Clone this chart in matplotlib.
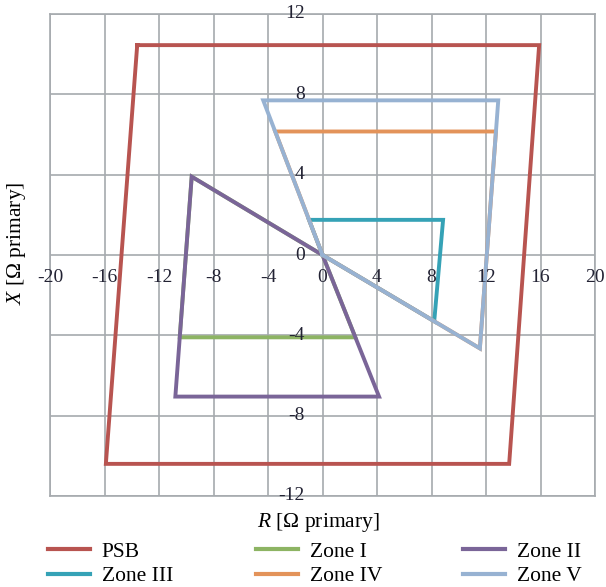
import matplotlib
matplotlib.use("Agg")
import matplotlib.pyplot as plt

plt.rcParams['font.family'] = ['Liberation Serif', 'DejaVu Serif']
plt.rcParams['mathtext.fontset'] = 'custom'
plt.rcParams['mathtext.it'] = 'Liberation Serif:italic'
plt.rcParams['mathtext.rm'] = 'Liberation Serif'

# Characteristic polygons in the R-X plane (Ω primary)
psb_r = [-13.6, 15.9, 13.7, -15.9, -13.6]
psb_x = [10.45, 10.45, -10.4, -10.4, 10.45]

zone1_r = [0.0, -9.6, -10.48, 2.41, 0.0]
zone1_x = [0.0, 3.9, -4.1, -4.1, 0.0]

zone2_r = [0.0, -9.6, -10.8, 4.15, 0.0]
zone2_x = [0.0, 3.9, -7.05, -7.05, 0.0]

zone3_r = [0.0, -0.99, 8.85, 8.2, 0.0]
zone3_x = [0.0, 1.75, 1.75, -3.3, 0.0]

zone4_r = [0.0, -3.47, 12.73, 11.55, 0.0]
zone4_x = [0.0, 6.15, 6.15, -4.65, 0.0]

zone5_r = [0.0, -4.35, 12.9, 11.55, 0.0]
zone5_x = [0.0, 7.7, 7.7, -4.65, 0.0]

r_ticks = [-20, -16, -12, -8, -4, 0, 4, 8, 12, 16, 20]
x_ticks = [-12, -8, -4, 0, 4, 8, 12]

series = [
    ("PSB", psb_r, psb_x, "#b85450"),
    ("Zone I", zone1_r, zone1_x, "#8db463"),
    ("Zone II", zone2_r, zone2_x, "#7a6598"),
    ("Zone III", zone3_r, zone3_x, "#35a2b6"),
    ("Zone IV", zone4_r, zone4_x, "#e3935a"),
    ("Zone V", zone5_r, zone5_x, "#97b2d2"),
]

fig = plt.figure(figsize=(6.06, 5.87), dpi=100)
ax = fig.add_axes([50 / 606, 1 - 496 / 587, 545 / 606, 482 / 587])

handles = {}
for name, r, x, c in series:
    h, = ax.plot(r, x, color=c, lw=2.8, solid_joinstyle='miter', label=name, zorder=3)
    handles[name] = h

ax.set_xlim(-20, 20)
ax.set_ylim(-12, 12)
ax.set_xticks(r_ticks)
ax.set_yticks(x_ticks)
ax.grid(True, color="#a6aaae", lw=1.2, zorder=0)
for s in ax.spines.values():
    s.set_color("#a6aaae")
    s.set_linewidth(1.2)
ax.tick_params(length=0, labelbottom=False, labelleft=False)

# tick labels placed along the axes crossing at the origin
tick_col = "#222233"
for t in r_ticks:
    ax.text(t, -1.1, f"{t}", ha='center', va='center', fontsize=14, color=tick_col, zorder=5)
for t in x_ticks:
    ax.text(-1.3, t, f"{t}", ha='right', va='center', fontsize=14, color=tick_col, zorder=5)

fig.text(318 / 606, 1 - 522 / 587, r"$R$ [Ω primary]", ha='center', va='center', fontsize=15.5)
fig.text(17 / 606, 1 - 243 / 587, r"$X$ [Ω primary]", ha='center', va='center',
         rotation=90, fontsize=15.5)

# legend: three evenly spaced columns of two entries
columns = [["PSB", "Zone III"], ["Zone I", "Zone IV"], ["Zone II", "Zone V"]]
col_x = [48, 256, 463]
for names, x0 in zip(columns, col_x):
    leg = fig.legend([handles[n] for n in names], names, loc='center left',
                     bbox_to_anchor=(x0 / 606, 1 - 564 / 587), frameon=False,
                     fontsize=15.5, handlelength=1.95, handletextpad=0.55,
                     labelspacing=0.2, borderpad=0, borderaxespad=0)
    for line in leg.get_lines():
        line.set_linewidth(3.0)

fig.savefig("out.png", dpi=100)
